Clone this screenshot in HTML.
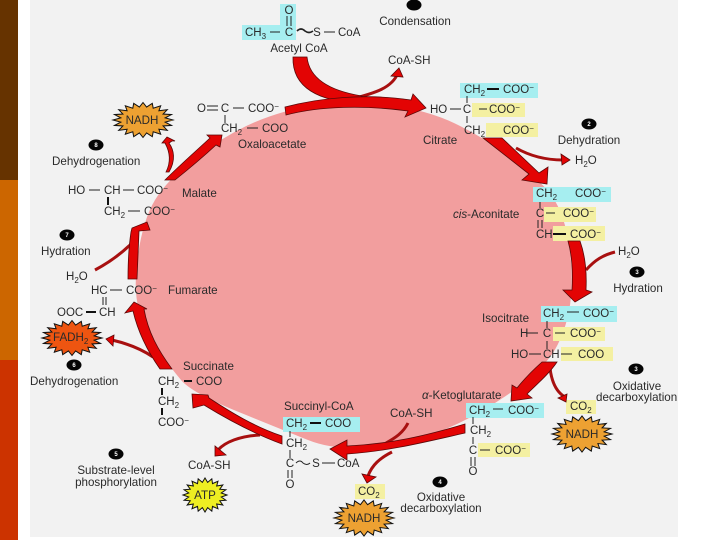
<!DOCTYPE html>
<html><head><meta charset="utf-8"><style>
html,body{margin:0;padding:0;background:#fff;width:720px;height:540px;overflow:hidden}
svg{display:block;filter:blur(.35px)}
text{font-family:"Liberation Sans",sans-serif;font-size:11.6px;fill:#2a2a2a}
.m{text-anchor:middle}
.c{font-size:11.5px}
.n{font-size:6px;fill:#fff;text-anchor:middle;font-weight:bold}
.a{fill:#e30404;stroke:#5a0808;stroke-width:.8;stroke-linejoin:miter}
.b{fill:none;stroke:#a81010;stroke-width:3}
.l{stroke:#222;stroke-width:1;fill:none}
.t{stroke:#111;stroke-width:2;fill:none}
.cy{fill:#a6eef0}.ye{fill:#f4f0a2}
</style></head><body>
<svg width="720" height="540" viewBox="0 0 720 540" xmlns="http://www.w3.org/2000/svg">
<defs>
<polygon id="star" stroke="#111" stroke-width="1" vector-effect="non-scaling-stroke" points="100,0 74,12 95,31 67,34 81,59 53,53 59,81 34,67 31,95 12,74 0,100 -12,74 -31,95 -34,67 -59,81 -53,53 -81,59 -67,34 -95,31 -74,12 -100,0 -74,-12 -95,-31 -67,-34 -81,-59 -53,-53 -59,-81 -34,-67 -31,-95 -12,-74 0,-100 12,-74 31,-95 34,-67 59,-81 53,-53 81,-59 67,-34 95,-31 74,-12"/>
</defs>
<rect width="720" height="540" fill="#fff"/>
<rect x="0" y="0" width="18" height="180" fill="#663300"/>
<rect x="0" y="180" width="18" height="180" fill="#cc6600"/>
<rect x="0" y="360" width="18" height="180" fill="#cc3300"/>
<rect x="30" y="0" width="648" height="537" fill="#f2f2f2"/>

<path fill="#f29e9e" d="M138,255 Q143,220 155,200 Q167,180 196,157.5 Q225,135 254,122.5 Q283,110 316.5,105 Q350,100 388.5,105 Q427,110 455,123.5 Q483,137 506.5,154.5 Q530,172 545,187.5 Q560,203 566.5,231.5 Q573,260 571.5,290 Q570,320 557.5,345 Q545,370 505,396.5 Q465,423 432.5,434 Q400,445 366.5,447.5 Q333,450 308,440 Q283,430 237.5,411.5 Q192,393 181,380 Q170,367 157.5,348.5 Q145,330 139,310 Q133,290 138,255Z"/>

<!-- highlight boxes -->
<rect class="cy" x="280" y="4" width="16" height="36"/><rect class="cy" x="242" y="25" width="54" height="15"/>
<rect class="cy" x="460" y="83" width="78" height="15"/><rect class="ye" x="472" y="103" width="53" height="14"/><rect class="ye" x="486" y="123" width="52" height="14"/>
<rect class="cy" x="533" y="187" width="78" height="15"/><rect class="ye" x="544" y="207" width="52" height="15"/><rect class="ye" x="553" y="226" width="52" height="15"/>
<rect class="cy" x="541" y="306" width="76" height="16"/><rect class="ye" x="553" y="327" width="52" height="14"/><rect class="ye" x="561" y="347" width="52" height="14"/>
<rect class="cy" x="466" y="403" width="78" height="15"/><rect class="ye" x="478" y="443" width="52" height="14"/>
<rect class="ye" x="566" y="400" width="30" height="14"/><rect class="ye" x="355" y="484" width="30" height="15"/>
<rect class="cy" x="283" y="417" width="77" height="15"/>

<!-- branch arrows -->
<path class="b" d="M352,99 C375,93 392,88 398,73"/><path class="a" d="M399,68 L403,77 L391,76Z"/>
<path class="b" d="M516,148 C530,156 545,160 563,160"/><path class="a" d="M570,160 L561,154 L562,165Z"/>
<path class="b" d="M586,270 C595,260 603,255 615,252"/>
<path class="b" d="M550,368 C552,385 558,393 565,397"/><path class="a" d="M566,402 L567,394 L558,398Z"/>
<path class="b" d="M408,423 C403,433 395,438 386,443"/>
<path class="b" d="M392,452 C380,458 372,465 368,476"/><path class="a" d="M367,483 L362,474 L376,477Z"/>
<path class="b" d="M260,435 C240,436 225,442 218,450"/><path class="a" d="M215,456 L215,446 L226,455Z"/>
<path class="b" d="M153,357 C140,348 125,343 112,340"/><path class="a" d="M106,339 L114,335 L113,346Z"/>
<path class="b" d="M95,270 C110,262 122,253 132,243"/>
<path class="a" d="M169,172 C176,160 174,150 169,143 L172,141 L175,141 L167,137 L162,143 L165,143 C170,152 171,162 166,172Z"/>

<!-- main arrows -->
<path class="a" d="M293,57 L307,57 C309,76 325,90 362,96 L358,102 C320,102 292,88 293,57Z"/>
<path class="a" d="M285,107 C320,98 365,93 411,100 L413,94 L426,108 L405,117 L408,111 C365,105 320,106 286,115Z"/>
<path class="a" d="M483,138 L502,138 L539,173 L548,167 L547,184 L522,180 L529,174Z"/>
<path class="a" d="M568,241 L580,241 C585,255 587,270 586,290 L592,292 L575,302 L563,290 L572,290 C573,272 572,255 568,241Z"/>
<path class="a" d="M542,362 L557,362 C549,374 537,384 527,394 L532,398 L511,401 L512,385 L517,388 C525,378 533,370 542,362Z"/>
<path class="a" d="M465,424 L465,433 C425,442 390,451 347,454 L347,460 L330,449 L347,440 L347,446 C390,444 425,436 465,424Z"/>
<path class="a" d="M282,436 L282,444 C255,434 230,421 204,405 L193,408 L192,394 L208,395 L209,398 C232,413 255,427 282,436Z"/>
<path class="a" d="M160,369 L172,369 C158,350 148,332 144,309 L147,309 L134,302 L125,313 L133,311 C138,332 148,352 160,369Z"/>
<path class="a" d="M128,279 L137,279 L139,231 L150,230 L147,222 L132,228 L131,232 C129,245 128,262 128,279Z"/>
<path class="a" d="M165,180 L175,180 C190,168 203,157 216,145 L220,147 L222,135 L207,135 L210,138 C196,151 180,165 165,180Z"/>

<!-- starbursts -->
<use href="#star" fill="#eda132" transform="translate(143,120) scale(.30,.175)"/>
<use href="#star" fill="#ee5511" transform="translate(72,338) scale(.30,.175)"/>
<use href="#star" fill="#eda132" transform="translate(582,434) scale(.30,.18)"/>
<use href="#star" fill="#eda132" transform="translate(364,518) scale(.30,.18)"/>
<use href="#star" fill="#eeee22" transform="translate(205,495) scale(.22,.17)"/>
<text class="m" x="142" y="124">NADH</text>
<text x="53" y="341">FADH<tspan dy="3" font-size="8">2</tspan></text>
<text class="m" x="582" y="438">NADH</text>
<text class="m" x="364" y="522">NADH</text>
<text class="m" x="205" y="499">ATP</text>

<!-- step dots -->
<g fill="#050505">
<ellipse cx="414" cy="5" rx="7.5" ry="5.5"/><ellipse cx="96" cy="145" rx="7.5" ry="5.5"/>
<ellipse cx="67" cy="235" rx="7.5" ry="5.5"/><ellipse cx="589" cy="124" rx="7.5" ry="5.5"/>
<ellipse cx="637" cy="272" rx="7.5" ry="5.5"/><ellipse cx="440" cy="482" rx="7.5" ry="5.5"/>
<ellipse cx="636" cy="369" rx="7.5" ry="5.5"/><ellipse cx="116" cy="454" rx="7.5" ry="5.5"/>
<ellipse cx="74" cy="365" rx="7.5" ry="5.5"/>
</g>
<text class="n" x="96" y="147">8</text><text class="n" x="67" y="237">7</text><text class="n" x="589" y="126">2</text>
<text class="n" x="637" y="274">3</text><text class="n" x="440" y="484">4</text><text class="n" x="636" y="371">3</text>
<text class="n" x="116" y="456">5</text><text class="n" x="74" y="367">6</text>

<!-- bonds -->
<g class="l">
<path d="M287,16V26M291,16V26M270,32H280"/><path d="M324,32H335"/>
<path d="M297,31 q4,-4 8,0 q4,3 8,0" stroke-width="1.6"/>
<path d="M450,109H461M479,109H487M467,96V103M467,116V123"/>
<path d="M546,213H555M540,202V208M538,220V228M542,220V228"/>
<path d="M567,312H579M547,321V328M526,333H538M555,333H565M529,354H541M561,354H572M547,341V349"/>
<path d="M493,409H503M473,417V424M473,437V444M480,450H490M471,457V466M475,457V466"/>
<path d="M290,431V437M290,450V458M288,470V478M292,470V478M322,463H335"/>
<path d="M296,463 q4,-4 7,0 q4,3 7,0"/>
<path d="M89,190H100M123,190H134M110,290H122M103,297V305M106,297V305"/>
<path d="M128,211H140M207,106H218M207,110H218M225,115V123M233,108H244M247,128H258"/>
</g>
<g class="t">
<path d="M487,89H499M553,234H566M310,423H321M184,381H192M86,312H96M162,388V395M162,408V415M108,197V205"/>
</g>

<!-- labels -->
<text class="c" x="289" y="14" text-anchor="middle">O</text>
<text class="c" x="245" y="36">CH<tspan dy="3" font-size="8">3</tspan></text>
<text class="c m" x="289" y="36">C</text><text class="c m" x="317" y="36">S</text><text class="c" x="338" y="36">CoA</text>
<text class="m" x="299" y="52">Acetyl CoA</text>
<text class="m" x="415" y="25">Condensation</text>
<text x="388" y="64">CoA-SH</text>

<text class="c" x="464" y="93">CH<tspan dy="3" font-size="8">2</tspan></text><text class="c" x="503" y="93">COO<tspan dy="-3" font-size="8">−</tspan></text>
<text class="c" x="430" y="113">HO</text><text class="c m" x="467" y="113">C</text><text class="c" x="489" y="113">COO<tspan dy="-3" font-size="8">−</tspan></text>
<text class="c" x="464" y="134">CH<tspan dy="3" font-size="8">2</tspan></text><text class="c" x="503" y="134">COO<tspan dy="-3" font-size="8">−</tspan></text>
<text x="423" y="144">Citrate</text>
<text class="m" x="589" y="144">Dehydration</text>
<text class="c" x="575" y="164">H<tspan dy="3" font-size="8">2</tspan><tspan dy="-3">O</tspan></text>

<text class="c" x="536" y="197">CH<tspan dy="3" font-size="8">2</tspan></text><text class="c" x="575" y="197">COO<tspan dy="-3" font-size="8">−</tspan></text>
<text class="c m" x="540" y="217">C</text><text class="c" x="563" y="217">COO<tspan dy="-3" font-size="8">−</tspan></text>
<text class="c" x="536" y="238">CH</text><text class="c" x="570" y="238">COO<tspan dy="-3" font-size="8">−</tspan></text>
<text x="453" y="218"><tspan font-style="italic">cis</tspan>-Aconitate</text>
<text class="c" x="618" y="255">H<tspan dy="3" font-size="8">2</tspan><tspan dy="-3">O</tspan></text>
<text class="m" x="638" y="292">Hydration</text>

<text x="482" y="322">Isocitrate</text>
<text class="c" x="543" y="317">CH<tspan dy="3" font-size="8">2</tspan></text><text class="c" x="583" y="317">COO<tspan dy="-3" font-size="8">−</tspan></text>
<text class="c" x="520" y="337" >H</text><text class="c m" x="547" y="337">C</text><text class="c" x="570" y="337">COO<tspan dy="-3" font-size="8">−</tspan></text>
<text class="c" x="511" y="358">HO</text><text class="c" x="543" y="358">CH</text><text class="c" x="578" y="358">COO</text>
<text class="m" x="637" y="390">Oxidative</text>
<text x="596" y="401">decarboxylation</text>

<text x="422" y="399"><tspan font-style="italic">α</tspan>-Ketoglutarate</text>
<text x="390" y="417">CoA-SH</text>
<text class="c" x="469" y="414">CH<tspan dy="3" font-size="8">2</tspan></text><text class="c" x="508" y="414">COO<tspan dy="-3" font-size="8">−</tspan></text>
<text class="c" x="470" y="434">CH<tspan dy="3" font-size="8">2</tspan></text>
<text class="c m" x="473" y="454">C</text><text class="c" x="495" y="454">COO<tspan dy="-3" font-size="8">−</tspan></text>
<text class="c m" x="473" y="475">O</text>
<text class="c" x="570" y="410">CO<tspan dy="3" font-size="8">2</tspan></text>
<text class="m" x="441" y="501">Oxidative</text><text class="m" x="441" y="512">decarboxylation</text>
<text class="c" x="358" y="495">CO<tspan dy="3" font-size="8">2</tspan></text>

<text x="284" y="410">Succinyl-CoA</text>
<text class="c" x="286" y="427">CH<tspan dy="3" font-size="8">2</tspan></text><text class="c" x="325" y="427">COO</text>
<text class="c" x="286" y="447">CH<tspan dy="3" font-size="8">2</tspan></text>
<text class="c m" x="290" y="467">C</text><text class="c m" x="316" y="467">S</text><text class="c" x="337" y="467">CoA</text>
<text class="c m" x="290" y="488">O</text>

<text x="183" y="370">Succinate</text>
<text class="c" x="158" y="385">CH<tspan dy="3" font-size="8">2</tspan></text><text class="c" x="196" y="385">COO</text>
<text class="c" x="158" y="405">CH<tspan dy="3" font-size="8">2</tspan></text>
<text class="c" x="158" y="426">COO<tspan dy="-3" font-size="8">−</tspan></text>
<text class="m" x="116" y="474">Substrate-level</text><text class="m" x="116" y="486">phosphorylation</text>
<text x="188" y="469">CoA-SH</text>
<text x="30" y="385">Dehydrogenation</text>

<text x="168" y="294">Fumarate</text>
<text class="c" x="91" y="294">HC</text><text class="c" x="126" y="294">COO<tspan dy="-3" font-size="8">−</tspan></text>
<text class="c" x="57" y="316">OOC</text><text class="c" x="99" y="316">CH</text>
<text class="c" x="66" y="280">H<tspan dy="3" font-size="8">2</tspan><tspan dy="-3">O</tspan></text>
<text x="41" y="255">Hydration</text>

<text x="182" y="197">Malate</text>
<text class="c" x="68" y="194">HO</text><text class="c" x="104" y="194">CH</text><text class="c" x="137" y="194">COO<tspan dy="-3" font-size="8">−</tspan></text>
<text class="c" x="104" y="215">CH<tspan dy="3" font-size="8">2</tspan></text><text class="c" x="144" y="215">COO<tspan dy="-3" font-size="8">−</tspan></text>
<text x="52" y="165">Dehydrogenation</text>

<text class="c" x="197" y="112">O</text><text class="c m" x="225" y="112">C</text><text class="c" x="248" y="112">COO<tspan dy="-3" font-size="8">−</tspan></text>
<text class="c" x="221" y="132">CH<tspan dy="3" font-size="8">2</tspan></text><text class="c" x="262" y="132">COO</text>
<text x="238" y="148">Oxaloacetate</text>
</svg>
</body></html>
